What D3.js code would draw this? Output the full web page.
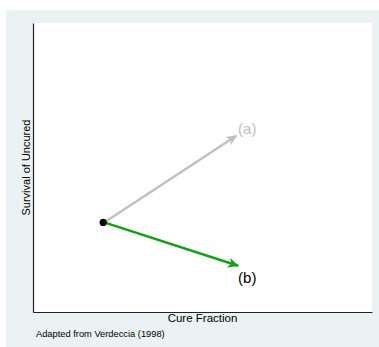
<!DOCTYPE html>
<html>
<head>
<meta charset="utf-8">
<script src="https://cdn.jsdelivr.net/npm/d3@7"></script>
<style>
	body { margin: 0; background: #fff; }
	svg { display: block; font-family: Arial, "Liberation Sans", sans-serif; }
</style>
</head>
<body>
<div id="chart"></div>
<script>
// Data (unitless 0..1 on both axes, as in the schematic)
var origin = {x: 0.21, y: 0.31};
var arrowNames = ["(a)", "(b)"];
var arrowEndX = [0.60, 0.605];
var arrowEndY = [0.61, 0.16];
var labelX = [0.605, 0.605];
var labelY = [0.633, 0.118];
var arrowColors = ["#c0c0c0", "#13a013"];
var labelColors = ["#c0c0c0", "#000000"];

var W = 379, H = 347;
var margin = {top: 23, right: 7, bottom: 35, left: 33},
	width = W - margin.left - margin.right,
	height = H - margin.top - margin.bottom;

var svg = d3.select("#chart")
	.append("svg")
		.attr("width", W)
		.attr("height", H);

// outer background
svg.append("rect")
	.attr("x", 6).attr("y", 10)
	.attr("width", W - 6).attr("height", H - 10)
	.attr("fill", "#eaf2f3");

var g = svg.append("g")
	.attr("transform", "translate(" + margin.left + "," + margin.top + ")");

// plot region
g.append("rect")
	.attr("width", width)
	.attr("height", height)
	.attr("fill", "#ffffff");

var xScale = d3.scaleLinear().domain([0, 1]).range([0, width]);
var yScale = d3.scaleLinear().domain([0, 1]).range([height, 0]);

// axes without ticks
g.append("g")
	.attr("class", "x axis")
	.attr("transform", "translate(0," + height + ")")
	.call(d3.axisBottom(xScale).tickValues([]).tickSizeOuter(0))
	.select(".domain").attr("stroke", "#222").attr("stroke-width", 1.2);
g.append("g")
	.attr("class", "y axis")
	.call(d3.axisLeft(yScale).tickValues([]).tickSizeOuter(0))
	.select(".domain").attr("stroke", "#222").attr("stroke-width", 1.2);

// axis titles
g.append("text")
	.attr("x", width / 2)
	.attr("y", height + 10)
	.attr("text-anchor", "middle")
	.style("font-size", "11.5px")
	.text("Cure Fraction");
g.append("text")
	.attr("transform", "translate(-3," + (height / 2) + ") rotate(-90)")
	.attr("text-anchor", "middle")
	.style("font-size", "11px")
	.text("Survival of Uncured");

// note
svg.append("text")
	.attr("x", 36)
	.attr("y", 337)
	.style("font-size", "9.3px")
	.text("Adapted from Verdeccia (1998)");

// arrowheads
var defs = svg.append("defs");
arrowColors.forEach(function(c, i) {
	defs.append("marker")
		.attr("id", "head" + i)
		.attr("viewBox", "-12 -6 14 12")
		.attr("refX", 0).attr("refY", 0)
		.attr("markerWidth", 14).attr("markerHeight", 12)
		.attr("markerUnits", "userSpaceOnUse")
		.attr("orient", "auto")
		.append("path")
			.attr("d", "M1,0 L-10,-5 L-7,0 L-10,5 Z")
			.attr("fill", c);
});

// arrows
var arrows = arrowNames.map(function(n, i) {
	return {name: n, x: arrowEndX[i], y: arrowEndY[i], lx: labelX[i], ly: labelY[i],
		color: arrowColors[i], lcolor: labelColors[i]};
});

g.selectAll(".arrow")
	.data(arrows)
	.enter().append("line")
		.attr("class", "arrow")
		.attr("x1", xScale(origin.x))
		.attr("y1", yScale(origin.y))
		.attr("x2", d => xScale(d.x))
		.attr("y2", d => yScale(d.y))
		.attr("stroke", d => d.color)
		.attr("stroke-width", 2.4)
		.attr("marker-end", (d, i) => "url(#head" + i + ")");

g.selectAll(".lab")
	.data(arrows)
	.enter().append("text")
		.attr("class", "lab")
		.attr("x", d => xScale(d.lx))
		.attr("y", d => yScale(d.ly))
		.attr("dy", "0.35em")
		.attr("fill", d => d.lcolor)
		.style("font-size", "15px")
		.text(d => d.name);

// origin point
g.append("circle")
	.attr("cx", xScale(origin.x) - 1)
	.attr("cy", yScale(origin.y))
	.attr("r", 3.6)
	.attr("fill", "#000");
</script>
</body>
</html>
